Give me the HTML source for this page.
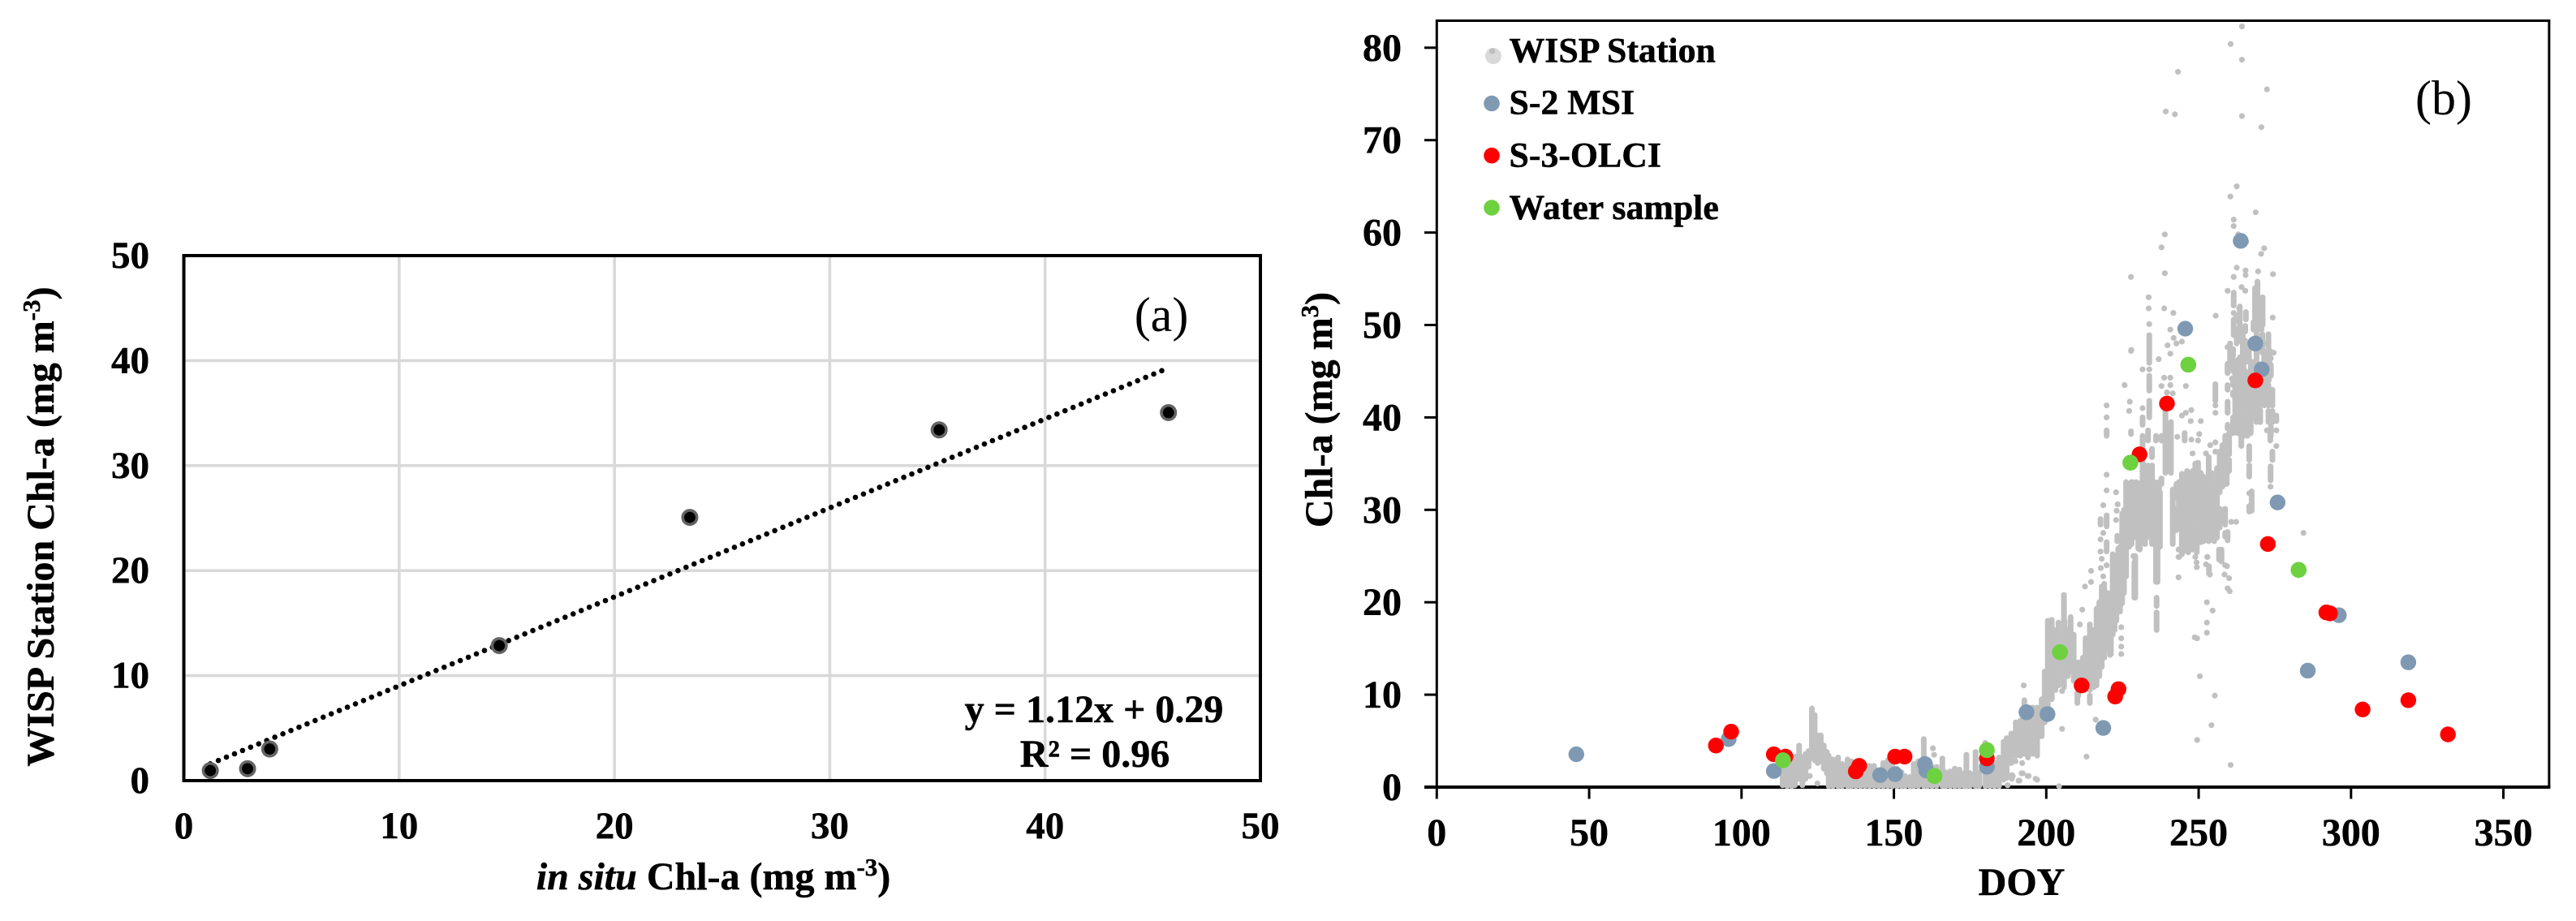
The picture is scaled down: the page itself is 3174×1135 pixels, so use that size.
<!DOCTYPE html>
<html lang="en">
<head>
<meta charset="utf-8">
<title>WISP Station Chl-a comparison charts</title>
<style>
html,body{margin:0;padding:0;background:#fff;}
body{width:3174px;height:1135px;overflow:hidden;}
svg{display:block;font-family:"Liberation Serif",serif;}
text{fill:#000;}
.b,text[font-weight="bold"]{font-weight:bold;stroke:#000;stroke-width:0.5px;}
</style>
</head>
<body>
<svg id="chart" xmlns="http://www.w3.org/2000/svg" width="3174" height="1135" viewBox="0 0 3174 1135">
  <rect x="0" y="0" width="3174" height="1135" fill="#fff"/>
  <g id="panel-a"></g>
  <g id="panel-b"></g>
  <text class="b" font-size="48" text-anchor="middle" transform="translate(66,649) rotate(-90)">WISP Station Chl-a (mg m<tspan font-size="31" dy="-17">-3</tspan><tspan dy="17">)</tspan></text>
  <text class="b" font-size="48" text-anchor="middle" x="879" y="1096"><tspan font-style="italic">in situ</tspan> Chl-a (mg m<tspan font-size="31" dy="-17">-3</tspan><tspan dy="17">)</tspan></text>
  <text font-size="60" text-anchor="middle" x="1431" y="408">(a)</text>
  <text class="b" font-size="48" text-anchor="middle" x="1348" y="890">y = 1.12x + 0.29</text>
  <text class="b" font-size="48" text-anchor="middle" x="1349" y="945">R² = 0.96</text>
  <text class="b" font-size="48" text-anchor="middle" transform="translate(1641,505) rotate(-90)">Chl-a (mg m<tspan font-size="31" dy="-17">3</tspan><tspan dy="17">)</tspan></text>
  <text class="b" font-size="48" text-anchor="middle" x="2491" y="1103">DOY</text>
  <text font-size="60" text-anchor="middle" x="3011" y="141">(b)</text>
  <g>
    <circle cx="1840" cy="69" r="10" fill="#d9d9d9"/>
    <circle cx="1838.7" cy="63" r="3.8" fill="#c0c0c0"/>
    <text class="b" font-size="43.8" x="1859.5" y="76.5">WISP Station</text>
    <circle cx="1838" cy="127.5" r="9.8" fill="#7f99b2"/>
    <text class="b" font-size="43.8" x="1859.5" y="140.5">S-2 MSI</text>
    <circle cx="1838" cy="191.7" r="9.8" fill="#ff0000"/>
    <text class="b" font-size="43.8" x="1859.5" y="205.5">S-3-OLCI</text>
    <circle cx="1838" cy="256" r="9.8" fill="#6dd140"/>
    <text class="b" font-size="43.8" x="1859.5" y="270">Water sample</text>
  </g>
</svg>
<script>
// ---------- Panel (a) data ----------
const aTickLabels = [0, 10, 20, 30, 40, 50];
const aInSitu = [1.23, 2.96, 3.99, 14.65, 23.5, 35.08, 45.73];
const aWisp = [0.96, 1.13, 3.01, 12.86, 25.07, 33.4, 35.05];
const aTrendX = [1.23, 45.73];
const aTrendY = [1.6, 39.3];

// ---------- Panel (b) data ----------
const bXTickLabels = [0, 50, 100, 150, 200, 250, 300, 350];
const bYTickLabels = [0, 10, 20, 30, 40, 50, 60, 70, 80];
const s2Doy = [45.8, 95.8, 110.6, 145.5, 150.4, 160.2, 160.6, 180.5, 193.5, 200.4, 218.7, 245.6, 263.8, 268.6, 270.7, 275.9, 285.8, 296, 318.8];
const s2Chl = [3.55, 5.2, 1.74, 1.3, 1.4, 2.5, 1.8, 2.2, 8.1, 7.9, 6.4, 49.6, 59.1, 48, 45.2, 30.8, 12.6, 18.6, 13.5];
const s3Doy = [91.6, 96.6, 110.6, 114.4, 137.5, 138.6, 150.4, 153.5, 180.5, 211.6, 222.6, 223.7, 230.6, 239.6, 268.6, 272.7, 291.9, 293.1, 303.8, 318.8, 331.8];
const s3Chl = [4.5, 6, 3.55, 3.3, 1.7, 2.3, 3.3, 3.3, 3.1, 11, 9.8, 10.6, 36, 41.5, 44, 26.3, 18.9, 18.8, 8.4, 9.4, 5.7];
const waterDoy = [113.6, 163.3, 180.5, 204.5, 227.6, 246.6, 282.8];
const waterChl = [2.9, 1.2, 4, 14.6, 35.1, 45.7, 23.5];

// WISP Station readings that overlap into vertical stacks: [doy, lowest chl, highest chl]
const wispStacks = [
[113.5,0.2,2],[115,0.1,2.2],[116.5,0.1,2.9],[117.5,0.2,3.3],[118.9,0.9,4.5],[120,0.2,3.2],[121,0.9,3.6],[122,2.2,3.9],[123.1,3.2,8.5],[124,2.9,7.8],[125,2.6,5.6],[126,2.8,5.6],[127,2,4.5],[128,1.5,3.8],
[128.6,0.1,3.4],[130,0.1,3],[131.7,0.1,3.2],[133,0.1,2.5],[134.8,0.1,3],[136,0.1,2.8],[137.5,0.1,2.5],[139,0.1,2.8],[140.5,0.1,2.4],[142,0.1,2.3],[143.5,0.1,2.3],[145,0.1,1.8],[146.5,0.1,2.6],[148,0.1,2.9],[149.5,0.1,2.6],[151,0.1,2],[152.5,0.1,1.6],[153.7,0.1,1.2],[155.3,0.1,1.1],[156.5,0.1,2.5],[158,0.1,2.8],[159.8,0.1,5.2],[161,0.1,2.6],[162.5,0.1,2.2],[164,0.1,2.2],[165.9,0.1,3.1],[167,0.1,1.6],[168.5,0.1,1.7],[170,0.1,2],[171.5,0.1,1.9],[173,0.1,1.5],[173.8,0.1,3.5],[175,0.1,1.5],[176.8,0.1,3.8],[178,0.1,1.6],[180,0.1,4.8],[181.5,0.1,2.8],[183,0.1,2.6],[184.5,0.1,3.2],[186,0.8,4.9],
[187,1,5.3],[188.5,2.6,5.8],[190,3.4,7],[191.5,3.4,7.2],[192.8,3.6,9.4],[194,3.2,8],[195.5,3.6,8.6],[197,3.4,8.6],[198.5,5.5,9.5],[199.5,7,12.5],[200.5,7.8,18],[201.8,9.5,18.1],[203,10.5,15],[204,11,17.8],[205.8,10.8,20.8],[207,12,17],[208,12.5,18.4],[209,11.5,16.5],[210.5,9.9,13.5],[210.2,9.1,10.2],[214.3,9.1,9.9],[206,13,18],[202.5,13,17],
[212,11.5,14],[212.9,10.8,16.1],[214.3,10.5,17.6],[215.5,10.8,17],[216.5,11,19.3],[217.4,12,20],[218.2,13,21.7],[219,14,22],[219.5,15,20.8],[220.2,15,21],[220.9,14.3,18],[221.8,16.5,25.2],[222.4,17,25],[223,18,24],[223.6,19,25.8],[224.2,19,26],[224.9,19.9,29.6],[225.5,21,30],[226.2,22.8,33],[227.2,26,32.7],[228,26.3,33],[228.9,20.5,24.3],[229.5,27,33],[230.2,25.8,32.2],[231.3,28.5,33],[232.4,26.3,34.8],[233.5,27.5,34],[234.7,26.3,34.8],[236,22.2,25.5],[236.2,17,18.9],[236.2,19.6,20.5],[236.5,26.7,30.5],[237.3,26,31.9],
[228.3,27,33],[231,28,32],[233,27,34],[235.5,26.5,33],[237,31,33],[241.5,26.3,32.2],
[227.6,29,32.8],[229.4,29.5,32.5],[230.7,25.7,32.2],[232.5,29,32.8],[234.3,29,33.1],[231.6,32.5,38],[233.4,37.5,38.6],[233.4,32.5,34.8],[234.7,35.7,36.6],[236,37.5,38],[236,23.7,28.4],[236.9,26.9,31.9],[237.8,37.5,38],[237.8,32.8,33.4],[239.1,34,40.7],[240.9,34,39.5],
[242.7,31.3,32.8],[242.7,27.8,30.1],[243.5,28,33],[244.5,25.2,33.9],[245.3,26,33.6],[245.4,37.5,38.3],[246.2,25.5,34.2],[247.1,26,33.8],[248,31.3,34.2],[248,25.7,30.1],[248.9,26,31],[248.9,32.5,35],[249.8,29.8,35.1],[250.7,26.5,34],[251.6,30.1,33.6],[251.6,26.6,29.5],[252.4,27,33],[253.3,31.3,35.7],[253.3,26.6,29.5],[254.2,27,34],[255.1,26.6,32.5],[256,27,34.5],[256.9,31.9,36.3],[256.9,28.7,30.1],[257.8,28.6,30],[257.8,32.5,37],[258.7,32.8,38],[258.7,28.4,30.1],[259.2,32.8,37.5],[260,36,38.3],[260,34.2,35.4],[246.6,25.4,28],[249.4,25.4,28],[256.7,24.6,25.7],[258.7,27.1,27.5],
[259.5,44.8,45.6],[259.5,43,43.5],[259.5,40.5,41.7],[259.5,38.8,39.2],[261.3,45,46.2],[261.3,43.5,44.1],[261.3,42.4,42.7],[261.3,38.3,40],[262.7,45,46.2],[262.7,43.9,44.8],[262.7,41.3,43.3],[262.7,38.3,40.7],[264,45.4,46.5],[264,41,43],[264,36.9,40.4],[265.3,46,47],[265.3,44,45],[265.3,41.3,43.3],[265.3,38.3,40.4],[267.1,43,46],[267.1,41.8,43],[267.1,38.3,40.4],[268.4,42,46],[270.2,41.3,45.5],[270.2,39.5,40.8],[271.5,41.3,44],[272.9,41.3,43.5],[272.9,39.5,40.7],[274.2,41.3,43],[274.2,39.5,40.7],[275.5,39.6,40.2],[273.7,38,39],
[260.3,46,48],[262,40,46],[263.3,41,46],[264.7,38,47],[266,38,44],[267.8,40,46],[269,39.5,47],[270.9,47,49],[272,43,46],[273,44,46],[272.9,47,49],[268.5,50,54],[271,50,53],[262.5,50.5,51],[263.5,50,52],[264.5,46,49],[266.5,46,48],
[261.5,52.1,53.5],[261.5,48.9,50.6],[262.5,48,48.9],[263.3,48.3,49.7],[264.4,48.9,49.6],[265.5,50.6,51.4],[265.3,49.3,49.9],[265.3,46.8,48.3],[268,49.5,50.3],[269.3,49.5,54.7],[270.6,49.5,52.4],[269,47,49.5],[271.5,45.4,47.1],[273.3,46.2,47.1],[273.7,44.5,45.7],[261.7,45,46],[261.3,46.7,47.4],[263.5,46,46.5],[264.8,47.1,47.5],[259.5,44.9,45.8],
[233.8,45.9,48.9],[233.8,42.9,44.5],[233.8,40,41.8],[231.6,39.2,40],[219.8,38,38.6],[227.8,38.2,38.5],[255.5,41.8,43.6],
[266.6,35.4,36.9],[266.6,33.6,34.8],[266.6,29.8,30.4],[273.6,33.2,34.7],[274.2,35.4,36.3],[273.5,37.5,38.5],[267.4,29.9,32],[229.2,20.5,25],[236.5,22.2,25.7],[257.5,24.4,25.7],[253.4,23.1,23.9],[259.5,26.7,27.6],[219.8,28.2,29.4],[217.8,28.4,29],[221.2,14.4,17.6],[219.8,25.5,26.5],[223.3,26.6,27.2]
];
// Isolated WISP Station readings: [doy, chl]
const wispPoints = [
[122.4,1.2],[124.9,0.4],[162.8,4.2],[163.2,3.5],[189,1.2],[187.3,0.2],[191.2,0.7],[192.3,1.5],[194.2,1.2],[197,0.8],[204.2,0.1],[188.7,1.3],[188.7,0.9],[189.9,2.8],[192.1,2.6],[191.9,1.5],[190.9,0.7],[193.9,1.2],[196.5,0.9],[192.6,11],[213.2,3.3],[216.2,7.3],[205.2,6.3],[216.1,11],[205.2,10.4],
[219.8,33.8],[219.8,32.1],[222.9,31.9],[218.7,30.5],[223.4,30.6],[223.1,29.9],[222.9,28.9],[218.7,27.5],[217.8,26.8],[217.8,25.5],[218.2,24.7],[219.8,24],[217.9,23.7],[214.7,23.4],[214.7,22.2],[212.7,21.7],[218.7,22.8],[211.8,19.2],[211,17.6],
[243.4,25.7],[243.4,24.9],[243.4,22.7],[252.7,20],[254.6,19.1],[252.7,17.8],[252.7,16.7],[248.7,16.2],[224.6,17.3],[224.6,16.1],[224.6,15.2],[224.6,14.4],[228.6,25],[249.4,23.8],[252.8,24.9],[253.7,23],[258.5,23],[260,22.6],[259.5,21.5],[260.2,21.2],[259.3,23.9],[262.3,28.7],[284.4,27.5],[249.5,16.1],[250.4,12],[255.3,9.9],[254.2,6.7],[249.5,5.1],[260.5,2.4],
[227.9,47.3],[231.6,45.2],[233.8,45.2],[236.9,46.3],[239.8,47.8],[240.7,49.5],[240.7,46.9],[244.5,48.2],[241.8,48.6],[242.7,48],[238.7,44.3],[240.7,44.3],[240.7,43.5],[237.8,43.4],[225.7,43.5],[245.8,43.4],[227.4,41.7],[231.6,41],[227.2,40.7],[219.8,41.3],[219.8,40],[239.6,42.7],[241.5,42.6],[247.6,40.8],[245.8,40.5],[244.5,40.2],[247.4,39.6],[250.7,39.6],[255.5,41.3],[255.5,40.5],[243,37.9],[247.6,37.6],[248,36.1],[249.8,37.5],[250.2,38.2],[252.4,36.1],[253.8,37],[255.5,37.3],[255.5,36.3],[256.9,28.1],[243.6,25.7],[243.6,24.9],[252.9,24.9],[248.9,24.9],[258.7,24],[252.4,24.1],[249.3,24.3],[260.7,28.7],
[272.4,48],[273.7,47.1],[273.7,46.4],[275.5,36.9],[275.5,38.6],[272.4,38.6],[273.6,32.5],[266.6,31.8],
[264.2,82.3],[260.5,80.4],[264.2,78.7],[243.2,77.4],[272.4,75.5],[239.2,73.1],[242.2,72.8],[264.2,72.6],[270.6,71.4],[262.5,65],[260.4,63.9],[268.7,62.2],[261.5,61.4],[261.5,60.7],[265.6,59],[263,59.8],[271.5,58.3],[270.5,57.7],[262.5,56.2],[265.4,55.9],[265.4,55.4],[269.5,55.8],[274.4,55.5],[261.5,55.2],[238.9,59.8],[237.8,58.4],[238.9,55.6],[227.8,55.2],[233.6,53],[233.6,51.8],[238.7,51.8],[241.7,51.3],[233.8,50.1],[255.6,51],[227.8,47.2],[272.7,48.1],[274.3,50.8],[259.5,53.7],[264.1,54.1],[265.3,53.7],[263.3,51.8],[261.5,51.3],[259.5,47.6],[274.6,47],[260.9,44.2],[259.5,43.3]
];

// ---------- Axis functions ----------
function xA(v){return 226.5+v*26.53;}
function yA(v){return 962-v*12.94;}
function xB(v){return 1770.3+v*3.755;}
function yB(v){return 970-v*11.39;}

const SVGNS = "http://www.w3.org/2000/svg";
function mk(tag, attrs, parent){
  const n = document.createElementNS(SVGNS, tag);
  for (const k in attrs) n.setAttribute(k, attrs[k]);
  parent.appendChild(n);
  return n;
}
const panelA = document.getElementById('panel-a');
const panelB = document.getElementById('panel-b');
let el;

// ---------- Panel (a) ----------
aTickLabels.slice(1, -1).forEach(function(t){
  el = mk('line', {x1:xA(t), x2:xA(t), y1:yA(0), y2:yA(50), stroke:'#d9d9d9', 'stroke-width':3.6}, panelA);
  
  
  el = mk('line', {x1:xA(0), x2:xA(50), y1:yA(t), y2:yA(t), stroke:'#d9d9d9', 'stroke-width':3.6}, panelA);
  
  
});
el = mk('rect', {x:xA(0), y:yA(50), width:xA(50)-xA(0), height:yA(0)-yA(50), fill:'none', stroke:'#000', 'stroke-width':4}, panelA);


aTickLabels.forEach(function(t){
  el = mk('text', {x:xA(t), y:1033, 'text-anchor':'middle', 'font-size':47, 'font-weight':'bold'}, panelA);
  el.textContent = t;
  
  
  el = mk('text', {x:184, y:yA(t)+15, 'text-anchor':'end', 'font-size':47, 'font-weight':'bold'}, panelA);
  el.textContent = t;
  
  
});
el = mk('line', {x1:xA(aTrendX[0]), y1:yA(aTrendY[0]), x2:xA(aTrendX[1]), y2:yA(aTrendY[1]), stroke:'#000', 'stroke-width':6.6, 'stroke-linecap':'round', 'stroke-dasharray':'0 10.75'}, panelA);


aInSitu.forEach(function(x, i){
  el = mk('circle', {cx:xA(x), cy:yA(aWisp[i]), r:8.7, fill:'#000', stroke:'#636363', 'stroke-width':3.6}, panelA);
  
  
});

// ---------- Panel (b) ----------
bYTickLabels.forEach(function(t){
  el = mk('line', {x1:1755, x2:xB(0), y1:yB(t), y2:yB(t), stroke:'#000', 'stroke-width':t === 0 ? 4 : 3}, panelB);
  
  
  el = mk('text', {x:1727, y:yB(t)+16, 'text-anchor':'end', 'font-size':48, 'font-weight':'bold'}, panelB);
  el.textContent = t;
  
  
});
bXTickLabels.forEach(function(t){
  el = mk('line', {x1:xB(t), x2:xB(t), y1:yB(0), y2:984.5, stroke:'#000', 'stroke-width':3}, panelB);
  
  
  el = mk('text', {x:xB(t), y:1042, 'text-anchor':'middle', 'font-size':48, 'font-weight':'bold'}, panelB);
  el.textContent = t;
  
  
});
el = mk('path', {d:'M'+xB(0)+' '+yB(0)+'V25.5H'+xB(365)+'V'+yB(0), fill:'none', stroke:'#000', 'stroke-width':3}, panelB);


el = mk('line', {x1:xB(0), x2:xB(365)+1.5, y1:yB(0), y2:yB(0), stroke:'#000', 'stroke-width':4}, panelB);



wispStacks.forEach(function(s){
  el = mk('line', {x1:xB(s[0]), x2:xB(s[0]), y1:yB(s[1]), y2:yB(s[2]), stroke:'#c0c0c0', 'stroke-width':7, 'stroke-linecap':'round'}, panelB);
  
  
});
wispPoints.forEach(function(p){
  el = mk('circle', {cx:xB(p[0]), cy:yB(p[1]), r:3.6, fill:'#c0c0c0'}, panelB);
  
  
});
s2Doy.forEach(function(d, i){
  el = mk('circle', {cx:xB(d), cy:yB(s2Chl[i]), r:9.7, fill:'#7f99b2'}, panelB);
  
  
});
s3Doy.forEach(function(d, i){
  el = mk('circle', {cx:xB(d), cy:yB(s3Chl[i]), r:9.7, fill:'#ff0000'}, panelB);
  
  
});
waterDoy.forEach(function(d, i){
  el = mk('circle', {cx:xB(d), cy:yB(waterChl[i]), r:9.8, fill:'#6dd140'}, panelB);
  
  
});
</script>
</body>
</html>
